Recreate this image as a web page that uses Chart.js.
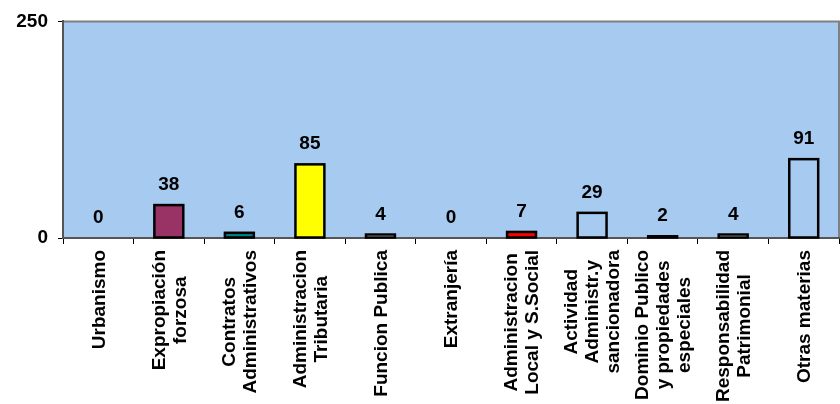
<!DOCTYPE html>
<html>
<head>
<meta charset="utf-8">
<script src="https://cdn.jsdelivr.net/npm/chart.js@4"></script>
<style>
  body { margin: 0; background: #fff; }
  #wrap { width: 840px; height: 404px; }
</style>
</head>
<body>
<div id="wrap"><canvas id="myChart" width="840" height="404"></canvas></div>
<script>
const categories = [
  ['Urbanismo'],
  ['Expropiación', 'forzosa'],
  ['Contratos', 'Administrativos'],
  ['Administracion', 'Tributaria'],
  ['Funcion Publica'],
  ['Extranjería'],
  ['Administracion', 'Local y S.Social'],
  ['Actividad', 'Administr.y', 'sancionadora'],
  ['Dominio Publico', 'y propiedades', 'especiales'],
  ['Responsabilidad', 'Patrimonial'],
  ['Otras materias']
];
const values = [0, 38, 6, 85, 4, 0, 7, 29, 2, 4, 91];
const yTicks = [0, 250];

const plotBg = '#A6CAF0';
const barColors = ['rgba(0,0,0,0)', '#993366', '#008080', '#FFFF00', '#FFFFFF',
  'rgba(0,0,0,0)', '#FF0000', plotBg, plotBg, '#FFFFFF', plotBg];
const FAMILY = 'Arial, "Liberation Sans", sans-serif';
const FONT = 'bold 19px ' + FAMILY;

// plot background + gray frame on top/right
const frame = {
  id: 'frame',
  beforeDraw(chart) {
    const { ctx, chartArea: a } = chart;
    ctx.save();
    ctx.fillStyle = plotBg;
    ctx.fillRect(a.left, a.top, a.right - a.left, a.bottom - a.top);
    ctx.strokeStyle = '#808080';
    ctx.lineWidth = 2;
    ctx.beginPath();
    ctx.moveTo(a.left, a.top);
    ctx.lineTo(a.right, a.top);
    ctx.lineTo(a.right, a.bottom);
    ctx.stroke();
    ctx.restore();
  }
};

// black outline centred on the bar edges (like the original), so small bars keep their fill
const outlines = {
  id: 'outlines',
  afterDatasetsDraw(chart) {
    const ctx = chart.ctx;
    ctx.save();
    ctx.strokeStyle = '#000';
    ctx.lineWidth = 2.5;
    chart.getDatasetMeta(0).data.forEach((bar, i) => {
      if (values[i] === 0) return;
      const w = bar.width;
      ctx.strokeRect(bar.x - w / 2, bar.y, w, bar.base - bar.y);
    });
    ctx.restore();
  }
};

// values above bars + rotated, centred category labels
const labels = {
  id: 'labels',
  afterDraw(chart) {
    const ctx = chart.ctx;
    const meta = chart.getDatasetMeta(0);
    const x = chart.scales.x;
    ctx.save();
    ctx.font = FONT;
    ctx.fillStyle = '#000';
    ctx.textAlign = 'center';
    ctx.textBaseline = 'alphabetic';
    meta.data.forEach((bar, i) => {
      ctx.fillText(String(values[i]), bar.x, bar.y - 15);
    });
    const lineH = 21;
    categories.forEach((lines, i) => {
      const cx = x.getPixelForValue(i);
      const maxW = Math.max(...lines.map(l => ctx.measureText(l).width));
      ctx.save();
      ctx.translate(cx, x.top + 12 + maxW / 2);
      ctx.rotate(-Math.PI / 2);
      ctx.textBaseline = 'middle';
      lines.forEach((l, j) => {
        ctx.fillText(l, 0, (j - (lines.length - 1) / 2) * lineH + 1);
      });
      ctx.restore();
    });
    ctx.restore();
  }
};

new Chart(document.getElementById('myChart'), {
  type: 'bar',
  data: {
    labels: categories.map(c => c.join(' ')),
    datasets: [{
      data: values,
      backgroundColor: barColors,
      borderWidth: 0,
      categoryPercentage: 1,
      barPercentage: 0.41
    }]
  },
  options: {
    responsive: false,
    animation: false,
    layout: { padding: { top: 16, right: 1 } },
    plugins: {
      legend: { display: false },
      tooltip: { enabled: false }
    },
    scales: {
      x: {
        grid: {
          offset: true,
          drawOnChartArea: false,
          tickLength: 6,
          tickColor: '#000'
        },
        border: { color: '#555', width: 2 },
        ticks: { display: false },
        afterFit(scale) { scale.height = 166; }
      },
      y: {
        min: yTicks[0],
        max: yTicks[yTicks.length - 1],
        afterBuildTicks(scale) { scale.ticks = yTicks.map(v => ({ value: v })); },
        grid: {
          drawOnChartArea: false,
          tickLength: 5,
          tickColor: '#000'
        },
        border: { color: '#555', width: 2 },
        ticks: {
          color: '#000',
          font: { family: FAMILY, size: 19, weight: 'bold' },
          padding: 10
        },
        afterFit(scale) { scale.width = 63; }
      }
    }
  },
  plugins: [frame, outlines, labels]
});
</script>
</body>
</html>
